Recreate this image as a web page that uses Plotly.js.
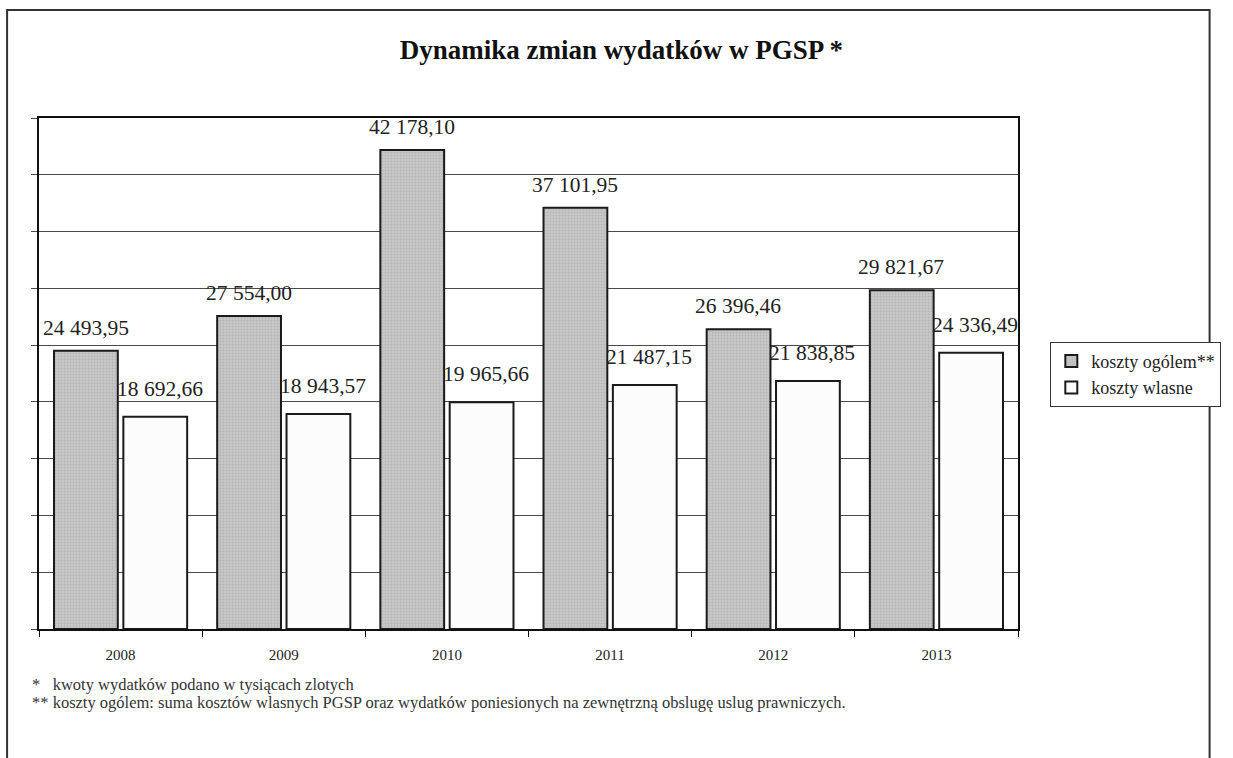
<!DOCTYPE html>
<html>
<head>
<meta charset="utf-8">
<script src="https://cdn.plot.ly/plotly-3.0.1.min.js"></script>
<style>html,body{margin:0;padding:0;background:#fff;}#chart{width:1233px;height:758px;}</style>
</head>
<body>
<div id="chart"></div>
<script>
const years = ['2008', '2009', '2010', '2011', '2012', '2013'];
const kosztyOgolem = [24493.95, 27554.00, 42178.10, 37101.95, 26396.46, 29821.67];
const kosztyWlasne = [18692.66, 18943.57, 19965.66, 21487.15, 21838.85, 24336.49];
const seriesNames = ['koszty ogólem**', 'koszty wlasne'];
const chartTitle = 'Dynamika zmian wydatków w PGSP *';
const footnotes = [
  '*   kwoty wydatków podano w tysiącach zlotych',
  '** koszty ogólem: suma kosztów wlasnych PGSP oraz wydatków poniesionych na zewnętrzną obslugę uslug prawniczych.'
];

function fmt(v) {
  const parts = v.toFixed(2).split('.');
  const intPart = parts[0].replace(/\B(?=(\d{3})+(?!\d))/g, ' ');
  return intPart + ',' + parts[1];
}

const serif = 'Liberation Serif, Times New Roman, serif';

const traces = [
  {
    type: 'bar', name: seriesNames[0], x: years, y: kosztyOgolem,
    marker: {color: '#c6c6c6', line: {color: '#1a1a1a', width: 2},
      pattern: {shape: '.', fgcolor: '#b4b4b4', bgcolor: '#c8c8c8', size: 3, solidity: 0.3}},
    hoverinfo: 'none'
  },
  {
    type: 'bar', name: seriesNames[1], x: years, y: kosztyWlasne,
    marker: {color: '#fcfcfc', line: {color: '#1a1a1a', width: 2}},
    hoverinfo: 'none'
  }
];

const annotations = [];
years.forEach((yr, i) => {
  annotations.push({x: i, y: kosztyOgolem[i], xref: 'x', yref: 'y', text: fmt(kosztyOgolem[i]),
    showarrow: false, yanchor: 'bottom', xshift: -35, yshift: 9,
    font: {family: serif, size: 21.5, color: '#222'}});
  annotations.push({x: i, y: kosztyWlasne[i], xref: 'x', yref: 'y', text: fmt(kosztyWlasne[i]),
    showarrow: false, yanchor: 'bottom', xshift: 39, yshift: 14,
    font: {family: serif, size: 21.5, color: '#222'}});
});
footnotes.forEach((t, i) => {
  annotations.push({x: -0.009, y: -0.108 - i * 0.035, xref: 'paper', yref: 'paper', text: t,
    showarrow: false, xanchor: 'left', yanchor: 'middle',
    font: {family: serif, size: 16.5, color: '#333'}});
});

const layout = {
  width: 1233, height: 758,
  margin: {l: 39, r: 213, t: 118, b: 129},
  paper_bgcolor: '#ffffff', plot_bgcolor: '#ffffff',
  title: {text: '<b>' + chartTitle + '</b>', x: 0.504, xref: 'container', y: 0.934, yref: 'container',
    yanchor: 'middle', xanchor: 'center', font: {family: serif, size: 27, color: '#111'}},
  barmode: 'group', bargap: 0.15, bargroupgap: 0.08,
  showlegend: true,
  legend: {x: 1.033, y: 0.562, xanchor: 'left', yanchor: 'top', bordercolor: '#333', borderwidth: 1,
    bgcolor: '#fff', font: {family: serif, size: 18, color: '#222'}, tracegroupgap: 0, itemwidth: 30},
  xaxis: {type: 'category', range: [-0.5, 5.5], autorange: false, showgrid: false, showline: true,
    linecolor: '#111', linewidth: 2, mirror: true,
    ticks: 'outside', tickson: 'boundaries', ticklen: 6, tickcolor: '#111', tickwidth: 1,
    ticklabelstandoff: 11, tickfont: {family: serif, size: 15, color: '#222'}, fixedrange: true},
  yaxis: {range: [0, 45000], autorange: false, dtick: 5000, showgrid: true, gridcolor: '#4a4a4a', gridwidth: 1,
    showticklabels: false, ticks: 'outside', ticklen: 6, tickcolor: '#4a4a4a',
    showline: true, linecolor: '#111', linewidth: 2, mirror: true, zeroline: false, fixedrange: true},
  annotations: annotations,
  shapes: [
    {type: 'rect', xref: 'paper', yref: 'paper', x0: -0.0326, x1: 1.1957, y0: -0.3, y1: 1.2114,
      line: {color: '#333', width: 2}, fillcolor: 'rgba(0,0,0,0)', layer: 'below'}
  ]
};

Plotly.newPlot('chart', traces, layout, {displayModeBar: false, staticPlot: true});
</script>
</body>
</html>
